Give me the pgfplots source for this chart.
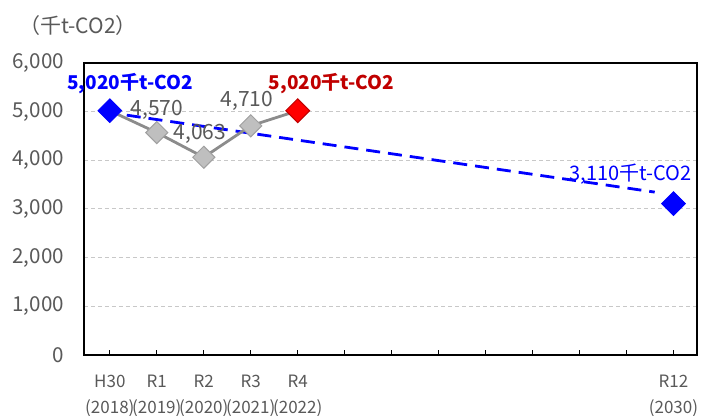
\documentclass[border=0pt]{standalone}
\usepackage{pgfplots}
\pgfplotsset{compat=1.18}
\usepackage{fontspec}
\setmainfont{Noto Sans CJK JP}
\definecolor{txtgray}{HTML}{595959}
\definecolor{linegray}{HTML}{8C8C8C}
\definecolor{mkgray}{HTML}{BFBFBF}
\definecolor{mkedge}{HTML}{A0A0A0}
\definecolor{gridgray}{HTML}{C8C8C8}
\definecolor{myblue}{HTML}{0000FF}
\definecolor{myred}{HTML}{FF0000}
\definecolor{darkred}{HTML}{C00000}
\begin{document}
\begin{tikzpicture}
\useasboundingbox (-42pt,-30.5pt) rectangle (308.5pt,177.5pt);
\begin{axis}[
  at={(0,0)}, anchor=south west,
  scale only axis, width=306.5pt, height=146pt,
  xmin=2017.45, xmax=2030.5, ymin=0, ymax=6000,
  clip mode=individual,
  axis line style={black, line width=1pt},
  xtick={2018,...,2030},
  xticklabels={{H30\\(2018)},{R1\\(2019)},{R2\\(2020)},{R3\\(2021)},{R4\\(2022)},{},{},{},{},{},{},{},{R12\\(2030)}},
  xtick pos=bottom, tick align=inside,
  xtick style={black, line width=0.6pt},
  major tick length=2.5pt,
  ytick={0,1000,...,6000},
  ytick style={draw=none},
  ymajorgrids, grid style={gridgray, dash pattern=on 2pt off 1.5pt, line width=0.5pt},
  yticklabel style={font=\fontsize{10.3}{12}\selectfont, text=txtgray, xshift=-6.5pt},
  xticklabel style={font=\fontsize{8.5}{13}\selectfont, text=txtgray, align=center, yshift=-6.5pt},
  /pgf/number format/.cd, 1000 sep={,}, assume math mode=true,
]
% reduction target (dashed)
\addplot[myblue, line width=1.4pt, dash pattern=on 7pt off 4pt] coordinates {(2018.36,4928) (2029.6,3347)};
% actual emissions
\addplot[linegray, line width=1.4pt, mark=square*, mark size=3.9pt,
  mark options={rotate=45, fill=mkgray, draw=mkedge, line width=0.5pt}]
  coordinates {(2018,5020) (2019,4570) (2020,4063) (2021,4710) (2022,5020)};
\addplot[only marks, mark=square*, mark size=4.2pt, mark options={rotate=45, fill=myblue, draw=myblue}]
  coordinates {(2018,5020) (2030,3110)};
\addplot[only marks, mark=square*, mark size=4.2pt, mark options={rotate=45, fill=myred, draw=darkred, line width=0.5pt}]
  coordinates {(2022,5020)};
% labels
\node[text=myblue, font=\fontsize{9.5}{11}\selectfont\bfseries] at (axis cs:2018.43,5585) {5,020千t-CO2};
\node[text=darkred, font=\fontsize{9.5}{11}\selectfont\bfseries] at (axis cs:2022.72,5585) {5,020千t-CO2};
\node[text=myblue, font=\fontsize{10}{11}\selectfont] at (axis cs:2029.09,3717) {3,110千t-CO2};
\node[text=txtgray, font=\fontsize{10.5}{12}\selectfont] at (axis cs:2019,5030) {4,570};
\node[text=txtgray, font=\fontsize{10.5}{12}\selectfont] at (axis cs:2019.92,4550) {4,063};
\node[text=txtgray, font=\fontsize{10.5}{12}\selectfont] at (axis cs:2020.92,5230) {4,710};
\end{axis}
\node[text=txtgray, font=\fontsize{10.5}{12}\selectfont] at (-3pt,164.5pt) {（千t-CO2）};
\end{tikzpicture}
\end{document}
